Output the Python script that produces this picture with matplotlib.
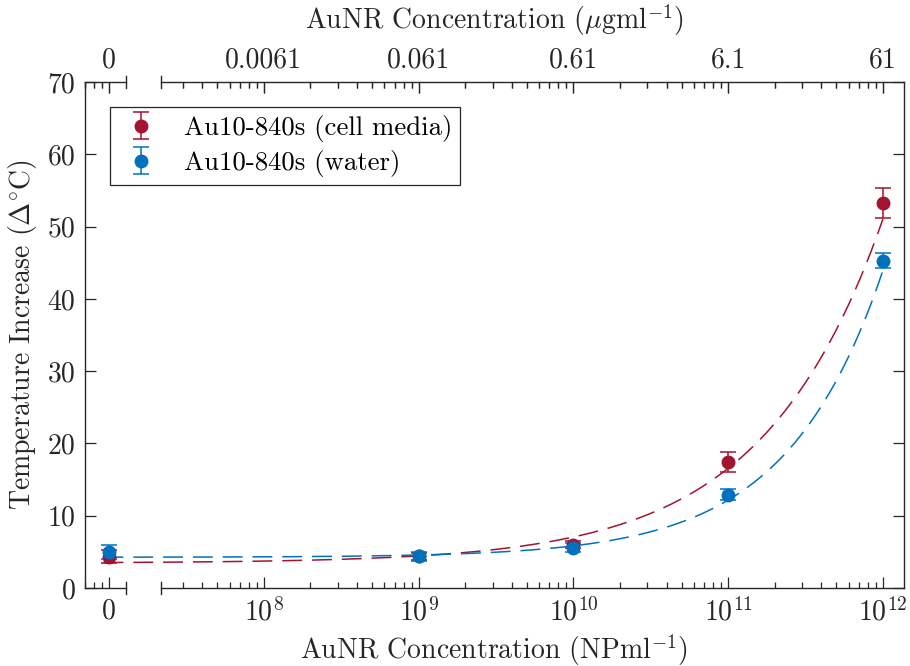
import numpy as np
import matplotlib
matplotlib.use("Agg")
import matplotlib.pyplot as plt
from matplotlib.lines import Line2D

plt.rcParams["font.family"] = "cmr10"
plt.rcParams["mathtext.fontset"] = "cm"
plt.rcParams["axes.unicode_minus"] = False
plt.rcParams["font.size"] = 20

# concentrations in NP/ml; the zero sample sits at 1e7 on the log axis
conc = [1e7, 1e9, 1e10, 1e11, 1e12]

media_temp = [4.3, 4.4, 6.0, 17.4, 53.3]
media_err = [0.9, 0.5, 0.5, 1.4, 2.1]

water_temp = [5.0, 4.4, 5.6, 12.9, 45.3]
water_err = [1.0, 0.6, 0.6, 0.75, 1.0]

# power-law fits  T = a + b * (c / 1e12) ** p
media_fit = (3.45, 47.6, 0.56)
water_fit = (4.25, 39.7, 0.70)

bottom_ticks = [1e7, 1e8, 1e9, 1e10, 1e11, 1e12]
bottom_labels = ["0", "$10^{8}$", "$10^{9}$", "$10^{10}$", "$10^{11}$", "$10^{12}$"]
top_labels = ["0", "0.0061", "0.061", "0.61", "6.1", "61"]

red = "#A2142F"
blue = "#0072BD"
dark = "#262626"

x_lo, x_hi = 10 ** 6.844, 10 ** 12.136
gap_lo, gap_hi = 10 ** 7.112, 10 ** 7.338

fig = plt.figure(figsize=(9.1, 6.66), dpi=100)
ax = fig.add_axes([0.0934, 0.1171, 0.9000, 0.7598])
ax.set_xscale("log")

c_fit = np.logspace(np.log10(9.2e6), 12, 400)
for (a, b, p), col in ((media_fit, red), (water_fit, blue)):
    ax.plot(c_fit, a + b * (c_fit / 1e12) ** p, "--", color=col, lw=1.1,
            dashes=(13, 6.5))

ax.errorbar(conc, media_temp, yerr=media_err, fmt="o", color=red, ms=9,
            capsize=6, elinewidth=1.1, capthick=1.1,
            label="Au10-840s (cell media)")
ax.errorbar(conc, water_temp, yerr=water_err, fmt="o", color=blue, ms=9,
            capsize=6, elinewidth=1.1, capthick=1.1,
            label="Au10-840s (water)")

ax.set_xlim(x_lo, x_hi)
ax.set_ylim(0, 70)
ax.set_yticks(range(0, 71, 10))

# minor ticks, skipping the broken stretch of the axis
minor = [m * 10.0 ** e for e in range(6, 12) for m in range(2, 10)]
minor = [v for v in minor if x_lo <= v <= x_hi and not (gap_lo * 0.9 <= v <= gap_hi)]
ax.set_xticks(bottom_ticks, labels=bottom_labels)
ax.set_xticks(minor, minor=True)

for s in ("top", "bottom"):
    ax.spines[s].set_visible(False)
for s in ("left", "right"):
    ax.spines[s].set_color(dark)
    ax.spines[s].set_linewidth(1.0)

ax.tick_params(which="both", direction="in", colors=dark, top=True, right=True,
               labelcolor=dark, width=0.9)
ax.tick_params(which="major", length=8, pad=7)
ax.tick_params(which="minor", length=4.5)

top = ax.secondary_xaxis("top")
top.set_xticks(bottom_ticks, labels=top_labels)
top.set_xticks(minor, minor=True)
top.tick_params(which="both", direction="in", colors=dark, labelcolor=dark, width=0.9)
top.tick_params(which="major", length=8, pad=6)
top.tick_params(which="minor", length=4.5)
top.spines["top"].set_visible(False)
top.set_xlabel(r"AuNR Concentration ($\mu$gml$^{-1}$)", color=dark, labelpad=13)

# split spines with break marks
tr = ax.get_xaxis_transform()
for y in (0, 1):
    for x0, x1 in ((x_lo, gap_lo), (gap_hi, x_hi)):
        ax.add_line(Line2D([x0, x1], [y, y], transform=tr, color=dark,
                           lw=1.0, clip_on=False))
    for xb in (gap_lo, gap_hi):
        ax.add_line(Line2D([xb, xb], [y - 0.012, y + 0.012], transform=tr,
                           color=dark, lw=1.0, clip_on=False))

ax.set_xlabel(r"AuNR Concentration (NPml$^{-1}$)", color=dark, labelpad=4)
ax.set_ylabel(r"Temperature Increase ($\Delta^{\circ}$C)", color=dark, labelpad=6)

leg = ax.legend(loc="upper left", bbox_to_anchor=(0.0305, 0.9506), borderaxespad=0,
                frameon=True, fancybox=False, edgecolor=dark, framealpha=1,
                fontsize=19.3, borderpad=0.3, handletextpad=0.7,
                labelspacing=0.3, handlelength=1.75)
leg.get_frame().set_linewidth(0.9)

fig.savefig("out.png", dpi=100)
